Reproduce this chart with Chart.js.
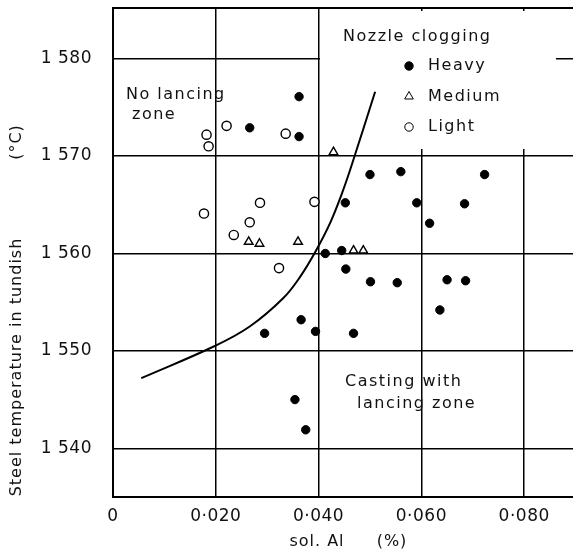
<!DOCTYPE html>
<html>
<head>
<meta charset="utf-8">
<script src="https://cdn.jsdelivr.net/npm/chart.js@4.4.0/dist/chart.umd.min.js"></script>
<style>
  html, body { margin: 0; padding: 0; background: #fff; overflow: hidden; }
  #wrap { width: 573px; height: 556px; position: relative; }
</style>
</head>
<body>
<div id="wrap"><canvas id="chart"></canvas></div>
<script>
// sol. Al (%) vs steel temperature in tundish (°C)
const heavyAl   = [0.0362, 0.0266, 0.0362, 0.0500, 0.0560, 0.0723, 0.0452, 0.0591, 0.0684, 0.0616, 0.0413, 0.0445, 0.0453, 0.0501, 0.0553, 0.0650, 0.0686, 0.0636, 0.0366, 0.0295, 0.0394, 0.0468, 0.0354, 0.0375];
const heavyTemp = [1576.1, 1572.9, 1572.0, 1568.1, 1568.4, 1568.1, 1565.2, 1565.2, 1565.1, 1563.1, 1560.0, 1560.3, 1558.4, 1557.1, 1557.0, 1557.3, 1557.2, 1554.2, 1553.2, 1551.8, 1552.0, 1551.8, 1545.0, 1541.9];

const mediumAl   = [0.0429, 0.0264, 0.0285, 0.0360, 0.0468, 0.0487];
const mediumTemp = [1570.4, 1561.2, 1561.0, 1561.2, 1560.3, 1560.3];

const lightAl   = [0.0182, 0.0186, 0.0221, 0.0336, 0.0177, 0.0286, 0.0392, 0.0266, 0.0235, 0.0323];
const lightTemp = [1572.2, 1571.0, 1573.1, 1572.3, 1564.1, 1565.2, 1565.3, 1563.2, 1561.9, 1558.5];

// boundary between the two zones
const curveAl   = [0.0055, 0.0198, 0.0266, 0.0331, 0.0364, 0.0394, 0.0423, 0.0445, 0.0464, 0.0510];
const curveTemp = [1547.2, 1550.5, 1552.5, 1555.4, 1557.6, 1560.2, 1563.2, 1566.1, 1569.0, 1576.6];

const xTicks = [0, 0.020, 0.040, 0.060, 0.080];
const yTicks = [1540, 1550, 1560, 1570, 1580];

const FONT = '"DejaVu Sans", sans-serif';

function pts(xs, ys) {
  return xs.map((x, i) => ({ x: x, y: ys[i] }));
}

function noPad(s) {
  s.paddingTop = 0; s.paddingBottom = 0; s.paddingLeft = 0; s.paddingRight = 0;
}

// white box behind the legend, top border, axis titles, notes
const decor = {
  id: 'decor',
  beforeDraw(chart) {
    chart.ctx.letterSpacing = '0.5px';
  },
  beforeDatasetsDraw(chart) {
    const ctx = chart.ctx, a = chart.chartArea;
    ctx.save();
    ctx.fillStyle = '#fff';
    ctx.fillRect(a.left + 207, a.top + 3, 236, 138);
    ctx.strokeStyle = '#000';
    ctx.lineWidth = 2;
    ctx.beginPath();
    ctx.moveTo(a.left - 1, a.top);
    ctx.lineTo(a.right, a.top);
    ctx.stroke();
    ctx.restore();
  },
  afterDatasetsDraw(chart) {
    const ctx = chart.ctx, a = chart.chartArea;
    ctx.save();
    ctx.fillStyle = '#111';
    ctx.textBaseline = 'middle';
    ctx.font = '16px ' + FONT;
    ctx.letterSpacing = '1.5px';

    // legend
    ctx.textAlign = 'left';
    ctx.fillText('Nozzle clogging', a.left + 230, a.top + 29);
    const items = [['Heavy', 'circle', '#000'], ['Medium', 'triangle', '#fff'], ['Light', 'circle', '#fff']];
    items.forEach((it, i) => {
      const y = a.top + 58 + i * 30.5;
      ctx.fillStyle = it[2];
      ctx.strokeStyle = '#000';
      Chart.helpers.drawPoint(ctx, { pointStyle: it[1], radius: it[1] === 'triangle' ? 5 : 4.2, rotation: 0, borderWidth: 1.4 }, a.left + 296, y);
      ctx.fillStyle = '#111';
      ctx.fillText(it[0], a.left + 315, y);
    });

    // zone notes
    ctx.fillText('No lancing', a.left + 13, a.top + 87);
    ctx.fillText('zone', a.left + 19, a.top + 107);
    ctx.fillText('Casting with', a.left + 232, a.top + 374);
    ctx.fillText('lancing zone', a.left + 244, a.top + 396);

    // axis titles
    ctx.textAlign = 'center';
    ctx.letterSpacing = '1px';
    ctx.fillText('sol. Al', 317, 542);
    ctx.fillText('(%)', 392, 542);
    ctx.translate(17, 0);
    ctx.rotate(-Math.PI / 2);
    ctx.fillText('Steel temperature in tundish', -367, 0);
    ctx.fillText('(°C)', -142, 0);
    ctx.restore();
  }
};

const config = {
  type: 'scatter',
  data: {
    datasets: [{
      label: 'Heavy',
      data: pts(heavyAl, heavyTemp),
      pointStyle: 'circle',
      pointRadius: 4.2,
      backgroundColor: '#000',
      borderColor: '#000',
      borderWidth: 1
    }, {
      label: 'Medium',
      data: pts(mediumAl, mediumTemp),
      pointStyle: 'triangle',
      pointRadius: 5,
      backgroundColor: '#fff',
      borderColor: '#000',
      borderWidth: 1.4
    }, {
      label: 'Light',
      data: pts(lightAl, lightTemp),
      pointStyle: 'circle',
      pointRadius: 4.6,
      backgroundColor: '#fff',
      borderColor: '#000',
      borderWidth: 1.4
    }, {
      label: 'boundary',
      type: 'line',
      data: pts(curveAl, curveTemp),
      showLine: true,
      tension: 0.4,
      pointRadius: 0,
      borderColor: '#000',
      borderWidth: 2,
      fill: false
    }]
  },
  options: {
    responsive: true,
    maintainAspectRatio: false,
    animation: false,
    events: [],
    layout: { autoPadding: false, padding: { top: 8, right: 0, left: 0, bottom: 0 } },
    plugins: { legend: { display: false }, tooltip: { enabled: false } },
    scales: {
      x: {
        type: 'linear',
        min: 0,
        max: 0.0895,
        afterBuildTicks: s => { s.ticks = xTicks.map(v => ({ value: v })); },
        afterFit: s => { s.height = 59; noPad(s); },
        ticks: {
          padding: 9,
          color: '#111',
          font: { family: FONT, size: 17 },
          maxRotation: 0,
          callback: v => v === 0 ? '0' : '0\u00b7' + String(Math.round(v * 1000)).padStart(3, '0')
        },
        grid: { color: '#000', lineWidth: 1.5, drawTicks: false },
        border: { display: true, color: '#000', width: 2 }
      },
      y: {
        type: 'linear',
        min: 1535,
        max: 1585.2,
        afterBuildTicks: s => { s.ticks = yTicks.map(v => ({ value: v })); },
        afterFit: s => { s.width = 113; noPad(s); },
        ticks: {
          padding: 21,
          color: '#111',
          font: { family: FONT, size: 17 },
          callback: v => '1 ' + String(v).slice(1)
        },
        grid: { color: '#000', lineWidth: 1.5, drawTicks: false },
        border: { display: true, color: '#000', width: 2 }
      }
    }
  },
  plugins: [decor]
};

new Chart(document.getElementById('chart'), config);
</script>
</body>
</html>
